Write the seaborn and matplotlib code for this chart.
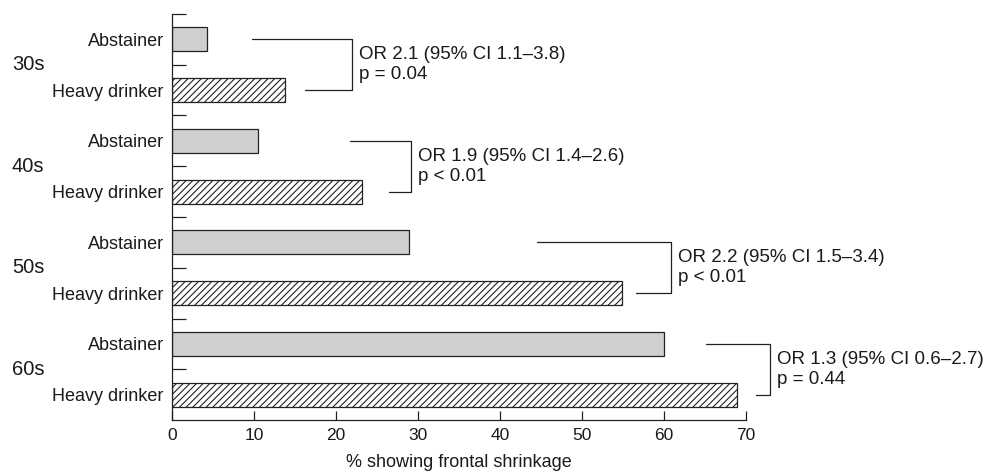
import numpy as np
import pandas as pd
import matplotlib
matplotlib.use('Agg')
import matplotlib.pyplot as plt
import matplotlib.transforms as mtransforms
import seaborn as sns

# Data
age_groups = ['30s', '40s', '50s', '60s']
drinker_groups = ['Abstainer', 'Heavy drinker']
abstainer_pct = [4.3, 10.5, 28.9, 60.0]
heavy_pct = [13.8, 23.2, 54.9, 68.9]
or_labels = ['OR 2.1 (95% CI 1.1\u20133.8)\np = 0.04',
             'OR 1.9 (95% CI 1.4\u20132.6)\np < 0.01',
             'OR 2.2 (95% CI 1.5\u20133.4)\np < 0.01',
             'OR 1.3 (95% CI 0.6\u20132.7)\np = 0.44']
x_ticks = [0, 10, 20, 30, 40, 50, 60, 70]

# Bracket x positions (upper start, lower start, vertical line)
bracket_upper = [9.8, 21.7, 44.5, 65.1]
bracket_lower = [16.2, 26.5, 56.6, 71.2]
bracket_vert = [22.0, 29.1, 60.9, 72.9]

# Long format table, one row per bar
rows = []
for i, age in enumerate(age_groups):
    rows.append({'slot': age + ' Abstainer', 'group': 'Abstainer', 'pct': abstainer_pct[i]})
    rows.append({'slot': age + ' Heavy drinker', 'group': 'Heavy drinker', 'pct': heavy_pct[i]})
df = pd.DataFrame(rows)

sns.set_style('ticks')
plt.rcParams['font.family'] = ['Liberation Sans', 'DejaVu Sans']
plt.rcParams['hatch.linewidth'] = 0.8

fig = plt.figure(figsize=(10.08, 4.72), dpi=100)
ax = fig.add_axes([172 / 1008, 1 - 420 / 472, 574 / 1008, 406 / 472])

sns.barplot(data=df, x='pct', y='slot', order=list(df['slot']), orient='h',
            width=0.47, color='#cfcfcf', edgecolor='#222222', linewidth=0.9,
            saturation=1, ax=ax)

# Heavy drinker bars: white with diagonal hatching
for patch, grp in zip(ax.patches, df['group']):
    if grp == 'Heavy drinker':
        patch.set_facecolor('white')
        patch.set_hatch('/////')
    else:
        patch.set_facecolor('#cfcfcf')

ax.set_xlim(0, 70)
ax.set_ylim(7.5, -0.5)
ax.set_xticks(x_ticks)
ax.set_xticklabels([str(t) for t in x_ticks], fontsize=12.5, color='#1a1a1a')
ax.set_yticks(range(len(df)))
ax.set_yticklabels(list(df['group']), fontsize=13, color='#1a1a1a')
ax.set_yticks(np.arange(-0.5, 7.0, 1.0), minor=True)
ax.tick_params(axis='y', which='major', length=0, pad=6)
ax.tick_params(axis='y', which='minor', direction='in', length=10, width=0.9, color='#222222')
ax.tick_params(axis='x', direction='in', length=6.5, width=0.9, pad=6, color='#222222')
ax.set_xlabel('% showing frontal shrinkage', fontsize=13, labelpad=8, color='#1a1a1a')
ax.set_ylabel('')
sns.despine(ax=ax)
for s in ['left', 'bottom']:
    ax.spines[s].set_linewidth(0.9)
    ax.spines[s].set_color('#222222')

# Age group labels at the far left
trans = mtransforms.blended_transform_factory(fig.transFigure, ax.transData)
for i, age in enumerate(age_groups):
    ax.text(12 / 1008, 2 * i + 0.5, age, transform=trans, fontsize=14.5,
            ha='left', va='center', color='#1a1a1a')

# Brackets and odds ratio annotations
for i in range(len(age_groups)):
    y_top, y_bot = 2 * i, 2 * i + 1
    xv = bracket_vert[i]
    ax.plot([bracket_upper[i], xv, xv, bracket_lower[i]], [y_top, y_top, y_bot, y_bot],
            color='#222222', lw=0.9, clip_on=False)
    ax.text(xv + 0.85, 2 * i + 0.5, or_labels[i], fontsize=13.5, ha='left',
            va='center', linespacing=1.2, clip_on=False, color='#1a1a1a')

fig.savefig('out.png', dpi=100)
